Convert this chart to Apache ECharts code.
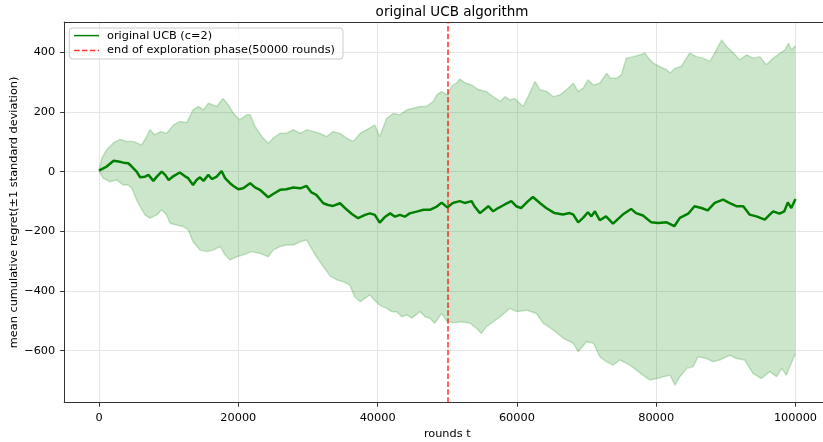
<!DOCTYPE html>
<html>
<head>
<meta charset="utf-8">
<script src="https://cdn.jsdelivr.net/npm/echarts@6/dist/echarts.min.js"></script>
<style>
  html, body { margin: 0; padding: 0; background: #fff; }
  #chart { width: 823px; height: 442px; }
</style>
</head>
<body>
<div id="chart"></div>
<script>
// Mean cumulative regret of the original UCB algorithm (c = 2)
const meanRounds = [0, 600, 1100, 2100, 2800, 3500, 4200, 4700, 5400, 5900,
  6600, 7100, 7800, 8300, 9000, 9500, 10000, 10700, 11600, 12300,
  12800, 13500, 14000, 14500, 15000, 15700, 16200, 16900, 17600, 18100,
  18800, 19300, 20000, 20700, 21700, 22400, 23100, 24300, 25000, 26000,
  26900, 27900, 28900, 29800, 30500, 31200, 32200, 32900, 33600, 34600,
  35600, 36300, 37200, 38200, 38900, 39600, 40300, 41100, 41800, 42500,
  43200, 43900, 44600, 45600, 46600, 47500, 48500, 49200, 50000, 50800,
  51800, 52500, 53500, 53900, 54700, 55900, 56600, 57300, 58200, 59200,
  59900, 60600, 61600, 62300, 63300, 64200, 65400, 66600, 67600, 68100,
  68800, 69500, 70200, 70700, 71200, 71900, 72800, 73800, 74500, 75200,
  76400, 77100, 78100, 79300, 80300, 81500, 82600, 83400, 84600, 85500,
  86500, 87400, 88400, 89600, 90500, 91500, 92500, 93400, 94400, 95600,
  96300, 96800, 97700, 98400, 98900, 99400, 100000];
const meanRegret = [3, 11, 17, 36, 34, 30, 28, 17, 0, -19,
  -17, -11, -31, -17, 0, -11, -28, -15, -3, -15,
  -22, -45, -28, -19, -31, -11, -25, -17, 2, -22,
  -39, -48, -59, -56, -39, -53, -61, -86, -75, -61,
  -59, -53, -56, -48, -70, -78, -106, -112, -115, -106,
  -128, -142, -156, -145, -140, -145, -171, -151, -140, -151,
  -145, -151, -140, -134, -128, -128, -117, -104, -120, -105,
  -99, -105, -99, -116, -139, -116, -133, -122, -111, -99,
  -116, -122, -99, -85, -105, -122, -139, -144, -139, -144,
  -170, -155, -136, -150, -133, -163, -150, -174, -159, -144,
  -125, -139, -147, -170, -172, -170, -183, -155, -141, -116,
  -122, -130, -105, -94, -105, -116, -116, -144, -150, -161,
  -144, -133, -141, -133, -103, -122, -92];

// Mean + 1 standard deviation
const upperRounds = [0, 400, 1100, 2100, 3000, 4000, 4900, 6100, 6800, 7300,
  8000, 8800, 9700, 10700, 11600, 12600, 13500, 14300, 15000, 15700,
  16400, 16900, 17800, 18600, 19300, 20200, 21200, 21700, 22400, 23400,
  24300, 25000, 26000, 26900, 27900, 28900, 29800, 30800, 31700, 32700,
  33600, 34600, 35600, 36500, 37500, 38400, 39600, 40300, 41300, 42300,
  43200, 44200, 45100, 46100, 47000, 48000, 48500, 49200, 50000, 50600,
  51300, 51800, 52500, 53500, 54500, 55600, 56600, 57600, 58300, 59000,
  59700, 60900, 61600, 62600, 63300, 64300, 65200, 66200, 67100, 68100,
  68800, 69500, 70200, 71000, 71900, 72900, 73400, 74300, 75000, 75700,
  76700, 77700, 78400, 78900, 79600, 80500, 81500, 82000, 82700, 83600,
  84800, 85800, 86700, 87700, 88400, 89400, 90100, 91100, 92000, 93000,
  93900, 94900, 95800, 96800, 97800, 98500, 99000, 99400, 100000];
const upperRegret = [3, 45, 73, 97, 108, 101, 101, 89, 115, 140,
  123, 134, 128, 156, 168, 164, 207, 218, 207, 229,
  223, 218, 245, 223, 195, 173, 190, 190, 151, 117,
  95, 112, 128, 128, 140, 128, 140, 134, 128, 117,
  134, 128, 112, 101, 128, 140, 156, 117, 179, 195,
  190, 207, 212, 218, 218, 235, 257, 268, 257, 285,
  296, 310, 298, 290, 274, 268, 251, 235, 251, 240,
  245, 218, 251, 302, 274, 268, 251, 257, 274, 296,
  268, 279, 307, 290, 296, 330, 313, 313, 324, 380,
  385, 391, 397, 380, 363, 352, 341, 330, 346, 352,
  397, 385, 380, 369, 397, 441, 419, 397, 374, 391,
  380, 385, 358, 380, 397, 408, 430, 408, 421];

// Mean - 1 standard deviation
const lowerRounds = [0, 600, 1600, 2500, 3500, 4200, 4700, 5400, 5900, 6600,
  7300, 8300, 9000, 9700, 10200, 11100, 12100, 12800, 13500, 14500,
  15500, 16400, 17400, 18100, 18800, 19800, 20700, 21900, 23100, 24300,
  25000, 26000, 26900, 27900, 28900, 29800, 30500, 31200, 32200, 33200,
  34100, 35100, 36000, 36700, 37500, 38200, 38900, 39600, 40300, 41300,
  42000, 42700, 43500, 44200, 44900, 46100, 46800, 47500, 48200, 49200,
  50000, 50900, 52100, 53300, 54200, 54900, 55600, 56600, 57600, 59000,
  60000, 61400, 62800, 63800, 65200, 66700, 68100, 68800, 70000, 71000,
  71900, 72900, 73800, 74800, 76200, 77200, 78100, 79100, 80100, 81000,
  82000, 82700, 83400, 84400, 85300, 86000, 87200, 88200, 89100, 90600,
  91500, 92700, 93900, 95100, 96300, 97300, 98000, 98700, 99400, 100000];
const lowerRegret = [0, -22, -34, -28, -45, -45, -56, -95, -117, -145,
  -156, -145, -128, -145, -173, -179, -184, -195, -235, -263,
  -268, -263, -251, -279, -296, -285, -279, -268, -274, -285,
  -263, -251, -246, -246, -235, -229, -257, -285, -318, -350,
  -362, -369, -380, -419, -436, -424, -413, -432, -447, -458,
  -469, -469, -486, -480, -491, -469, -486, -491, -508, -475,
  -503, -506, -503, -508, -525, -542, -520, -503, -486, -458,
  -469, -464, -475, -508, -530, -559, -575, -603, -570, -575,
  -620, -637, -648, -631, -648, -665, -682, -698, -693, -687,
  -682, -715, -687, -659, -654, -620, -626, -637, -631, -615,
  -626, -631, -676, -693, -670, -687, -659, -682, -642, -609];

// End of the exploration phase
const explorationEnd = 50000;

// Axis ranges and tick labels
const xRange = [-5000, 105000];
const yRange = [-774, 501];
const xTicks = [0, 20000, 40000, 60000, 80000, 100000];
const yTicks = [-600, -400, -200, 0, 200, 400];

const zip = (xs, ys) => xs.map((x, i) => [x, ys[i]]);
const meanData = zip(meanRounds, meanRegret);
const upperData = zip(upperRounds, upperRegret);
const lowerData = zip(lowerRounds, lowerRegret);
const bandOutline = upperData.concat(lowerData.slice().reverse());

const FONT = 'DejaVu Sans';
const minus = v => String(v).replace('-', '\u2212');
const SPINE = { color: '#333', width: 1 };

const chart = echarts.init(document.getElementById('chart'), null, { renderer: 'canvas' });

chart.setOption({
  animation: false,
  backgroundColor: '#fff',
  title: {
    text: 'original UCB algorithm',
    left: 447, top: 0, textAlign: 'center',
    textStyle: { fontFamily: FONT, fontSize: 13.5, fontWeight: 'normal', color: '#000' }
  },
  grid: {
    left: 64.2, top: 22, width: 766.1, height: 380.7,
    show: false, containLabel: false, outerBoundsMode: 'none'
  },
  legend: {
    data: ['original UCB (c=2)', 'end of exploration phase(50000 rounds)'],
    orient: 'vertical',
    left: 69.3, top: 28,
    padding: [2, 8, 3, 4],
    itemWidth: 25, itemHeight: 14, itemGap: 3.6,
    backgroundColor: 'rgba(255,255,255,0.8)',
    borderColor: '#cccccc', borderWidth: 1, borderRadius: 3,
    itemStyle: { opacity: 0 },
    lineStyle: { width: 1.5 },
    textStyle: { fontFamily: FONT, fontSize: 11.3, color: '#000', padding: [0, 0, 0, 3] }
  },
  xAxis: [
    {
      type: 'value', min: xRange[0], max: xRange[1], position: 'bottom',
      name: 'rounds t', nameLocation: 'middle', nameGap: 26,
      nameTextStyle: { fontFamily: FONT, fontSize: 11.3, color: '#000' },
      axisLine: { show: true, onZero: false, lineStyle: SPINE },
      axisTick: { show: true, inside: false, length: 4, lineStyle: SPINE, customValues: xTicks },
      axisLabel: { customValues: xTicks, margin: 10, fontFamily: FONT, fontSize: 11.3, color: '#000', formatter: minus },
      splitLine: { show: true, lineStyle: { color: '#e6e6e6', width: 1 } }
    },
    {
      // top spine
      type: 'value', min: xRange[0], max: xRange[1], position: 'top',
      axisLine: { show: true, onZero: false, lineStyle: SPINE },
      axisTick: { show: false }, axisLabel: { show: false }, splitLine: { show: false }
    }
  ],
  yAxis: {
    type: 'value', min: yRange[0], max: yRange[1],
    name: 'mean cumulative regret(\u00b11 standard deviation)',
    nameLocation: 'middle', nameGap: 45, nameRotate: 90, nameMoveOverlap: false,
    nameTextStyle: { fontFamily: FONT, fontSize: 11.3, color: '#000' },
    axisLine: { show: true, onZero: false, lineStyle: SPINE },
    axisTick: { show: true, inside: false, length: 4, lineStyle: SPINE, customValues: yTicks },
    axisLabel: { customValues: yTicks, margin: 9, fontFamily: FONT, fontSize: 11.3, color: '#000', formatter: minus },
    splitLine: { show: true, lineStyle: { color: '#e6e6e6', width: 1 } }
  },
  series: [
    {
      // shaded ±1 std band
      name: 'band', type: 'custom', silent: true, z: 1,
      data: [[0, 0]],
      renderItem: (params, api) => ({
        type: 'polygon',
        shape: { points: bandOutline.map(p => api.coord(p)) },
        style: { fill: 'rgba(0,128,0,0.2)', stroke: 'none' }
      })
    },
    {
      name: 'upper', type: 'line', data: upperData, symbol: 'none', silent: true, z: 2,
      lineStyle: { color: 'rgba(0,128,0,0.2)', width: 1.5 }
    },
    {
      name: 'lower', type: 'line', data: lowerData, symbol: 'none', silent: true, z: 2,
      lineStyle: { color: 'rgba(0,128,0,0.2)', width: 1.5 }
    },
    {
      name: 'original UCB (c=2)', type: 'line', data: meanData, symbol: 'none', z: 3,
      color: '#008000',
      lineStyle: { color: '#008000', width: 2.5 }
    },
    {
      name: 'end of exploration phase(50000 rounds)', type: 'line', data: [], symbol: 'none', z: 4,
      color: 'rgba(255,0,0,0.8)',
      lineStyle: { color: 'rgba(255,0,0,0.8)', width: 1.5, type: [5.5, 2.4] },
      markLine: {
        silent: true, symbol: ['none', 'none'], label: { show: false },
        lineStyle: { color: 'rgba(255,0,0,0.8)', width: 1.5, type: [5.5, 2.4] },
        data: [{ xAxis: explorationEnd }]
      }
    }
  ]
});
</script>
</body>
</html>
